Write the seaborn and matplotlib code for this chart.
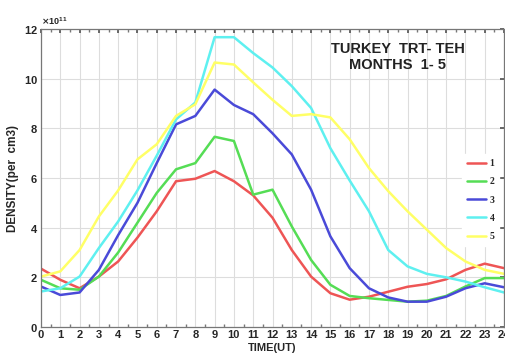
import numpy as np
import pandas as pd
import matplotlib
matplotlib.use("Agg")
import matplotlib.pyplot as plt
from matplotlib.ticker import ScalarFormatter, MultipleLocator
import seaborn as sns

# Hourly electron density (units of 1e11 per cm3), TRT-TEH path, months 1-5
hours = list(range(25))
month_1 = [2.35, 1.9, 1.56, 2.03, 2.64, 3.6, 4.66, 5.87, 5.97, 6.28, 5.87, 5.3, 4.4,
           3.1, 2.03, 1.36, 1.1, 1.22, 1.42, 1.62, 1.73, 1.92, 2.3, 2.55, 2.37]
month_2 = [1.9, 1.56, 1.5, 2.03, 3.0, 4.2, 5.4, 6.35, 6.6, 7.66, 7.49, 5.33, 5.53,
           4.05, 2.7, 1.7, 1.25, 1.16, 1.09, 1.02, 1.06, 1.25, 1.63, 1.97, 1.97]
month_3 = [1.63, 1.29, 1.39, 2.3, 3.7, 5.0, 6.6, 8.16, 8.5, 9.56, 8.94, 8.57, 7.8,
           6.95, 5.53, 3.65, 2.37, 1.56, 1.19, 1.02, 1.02, 1.22, 1.56, 1.76, 1.6]
month_4 = [1.43, 1.56, 2.03, 3.18, 4.25, 5.5, 6.9, 8.36, 9.04, 11.67, 11.67, 11.03, 10.45,
           9.7, 8.82, 7.2, 5.9, 4.66, 3.1, 2.44, 2.14, 2.0, 1.83, 1.6, 1.39]
month_5 = [2.03, 2.24, 3.1, 4.45, 5.5, 6.75, 7.36, 8.5, 8.97, 10.65, 10.57, 9.85, 9.15,
           8.5, 8.57, 8.44, 7.56, 6.4, 5.47, 4.66, 3.92, 3.18, 2.64, 2.3, 2.14]
month_labels = ["1", "2", "3", "4", "5"]
series = [month_1, month_2, month_3, month_4, month_5]
colors = ["#ee5555", "#55dd55", "#4a4ad8", "#5ef0f0", "#ffff66"]

df = pd.DataFrame({
    "TIME(UT)": np.tile(hours, len(series)),
    "density": np.concatenate(series) * 1e11,
    "month": np.repeat(month_labels, len(hours)),
})

sns.set_theme(style="white")
plt.rcParams["font.family"] = ["Liberation Sans", "DejaVu Sans"]
plt.rcParams["font.weight"] = "bold"

fig = plt.figure(figsize=(5.05, 3.58), dpi=100)
ax = fig.add_axes([41 / 505, 31 / 358, 463 / 505, 298 / 358])

sns.lineplot(data=df, x="TIME(UT)", y="density", hue="month",
             palette=colors, linewidth=1.8, ax=ax, legend=True)

ax.set_xlim(0, 24)
ax.set_ylim(0, 12e11)
ax.xaxis.set_major_locator(MultipleLocator(1))
ax.xaxis.set_minor_locator(MultipleLocator(0.5))
ax.yaxis.set_major_locator(MultipleLocator(2e11))
fmt = ScalarFormatter(useMathText=True)
fmt.set_powerlimits((11, 11))
ax.yaxis.set_major_formatter(fmt)
ax.yaxis.get_offset_text().set_fontsize(6.5)

ax.grid(True, color="#dddddd", linewidth=0.8)
ax.tick_params(axis="both", which="major", labelsize=8, length=3, direction="in",
               top=True, right=True, pad=2, color="#555555")
ax.tick_params(axis="x", which="minor", length=2, direction="in", top=True,
               bottom=True, color="#777777")
for s in ax.spines.values():
    s.set_color("#777777")
    s.set_linewidth(0.9)

ax.set_xlabel("TIME(UT)", fontsize=8, fontweight="bold", labelpad=2)
ax.set_ylabel("DENSITY(per  cm3)", fontsize=8.5, fontweight="bold", labelpad=4)

ax.text(0.771, 0.907, "TURKEY  TRT- TEH\nMONTHS  1- 5", transform=ax.transAxes,
        ha="center", va="center", fontsize=10.5, fontweight="bold",
        linespacing=1.2, color="#222222")

leg = ax.legend(loc="center right", bbox_to_anchor=(1.0, 0.426), frameon=True,
                fontsize=7, handlelength=2.0, labelspacing=0.95,
                borderpad=0.5, handletextpad=0.3)
leg.get_frame().set_edgecolor("white")
leg.get_frame().set_facecolor("white")
leg.get_frame().set_alpha(1.0)
for t in leg.get_texts():
    t.set_family(["Liberation Serif", "DejaVu Serif"])
    t.set_fontweight("bold")

fig.savefig("out.png", dpi=100)
